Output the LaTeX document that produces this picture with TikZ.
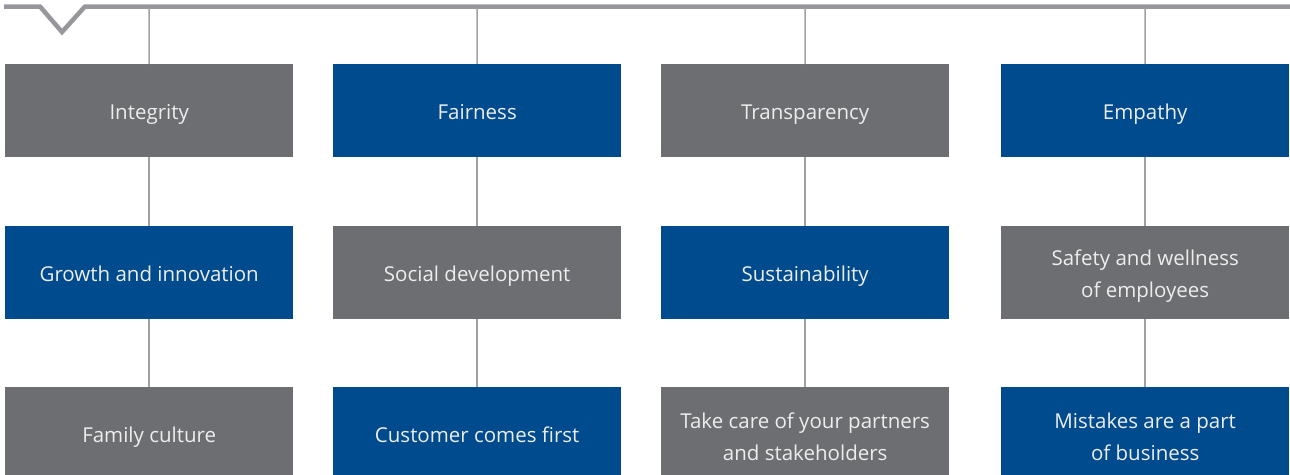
\documentclass[tikz,border=0pt]{standalone}
\usepackage{fontspec}
\setmainfont{Open Sans}
\definecolor{boxgray}{HTML}{6D6E71}
\definecolor{boxblue}{HTML}{004B8D}
\definecolor{linegray}{HTML}{A0A1A4}
\definecolor{topgray}{HTML}{96979A}
\definecolor{txt}{HTML}{EDEDED}
\newcommand{\toprule}{\rule{0pt}{22pt}}
\begin{document}
\begin{tikzpicture}[x=1pt,y=-1pt,
  valbox/.style={minimum width=288pt,minimum height=93pt,inner sep=0pt,text=txt,
    font=\fontsize{20.5}{32}\selectfont,align=center,anchor=north west},
  one/.style={text height=22pt,text depth=5pt},
  gbox/.style={valbox,fill=boxgray},
  bbox/.style={valbox,fill=boxblue},
  conn/.style={draw=linegray,line width=1.5pt}]
\useasboundingbox (0,0) rectangle (1290,474);
% top line with chevron
\draw[topgray,line width=4.5pt,line join=miter] (4,6.5) -- (40,6.5) -- (62,32) -- (85,6.5) -- (1290,6.5);
% column coordinates
\foreach \n/\x in {a/149,b/477,c/805,d/1145}{\coordinate (t\n) at (\x,8);}
% row 1
\node[gbox,one] (a1) at (5,64) {Integrity};
\node[bbox,one] (b1) at (333,64) {Fairness};
\node[gbox,one] (c1) at (661,64) {Transparency};
\node[bbox,one] (d1) at (1001,64) {Empathy};
% row 2
\node[bbox,one] (a2) at (5,226) {Growth and innovation};
\node[gbox,one] (b2) at (333,226) {Social development};
\node[bbox,one] (c2) at (661,226) {Sustainability};
\node[gbox] (d2) at (1001,226) {\toprule Safety and wellness\\of employees};
% row 3 (extends past the lower edge)
\node[gbox,one] (a3) at (5,387) {Family culture};
\node[bbox,one] (b3) at (333,387) {Customer comes first};
\node[gbox] (c3) at (661,387) {\toprule Take care of your partners\\and stakeholders};
\node[bbox] (d3) at (1001,387) {\toprule Mistakes are a part\\of business};
% connectors
\foreach \n in {a,b,c,d}{
  \draw[conn] (t\n) -- (\n1.north);
  \draw[conn] (\n1.south) -- (\n2.north);
  \draw[conn] (\n2.south) -- (\n3.north);
}
\end{tikzpicture}
\end{document}
